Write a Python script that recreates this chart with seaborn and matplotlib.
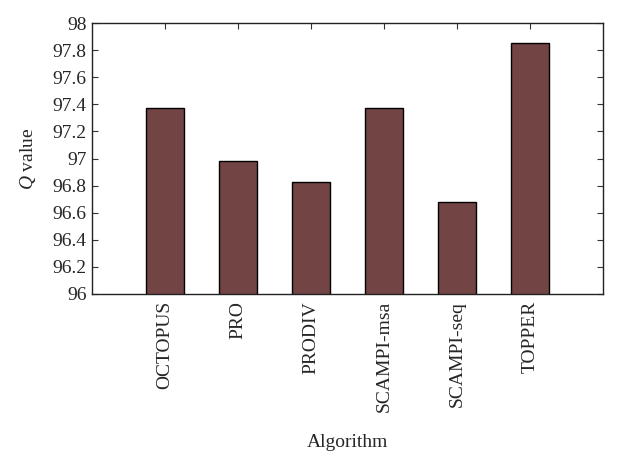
import matplotlib
matplotlib.use("Agg")
import matplotlib.pyplot as plt
import seaborn as sns
import pandas as pd

algorithms = ["OCTOPUS", "PRO", "PRODIV", "SCAMPI-msa", "SCAMPI-seq", "TOPPER"]
q_values = [97.37, 96.98, 96.83, 97.37, 96.68, 97.85]
y_ticks = [96, 96.2, 96.4, 96.6, 96.8, 97, 97.2, 97.4, 97.6, 97.8, 98]
y_tick_labels = ["96", "96.2", "96.4", "96.6", "96.8", "97", "97.2", "97.4", "97.6", "97.8", "98"]

sns.set_style("white")
plt.rcParams["font.family"] = ["Liberation Serif", "DejaVu Serif"]
plt.rcParams["mathtext.fontset"] = "custom"
plt.rcParams["mathtext.it"] = "Liberation Serif:italic"

df = pd.DataFrame({"Algorithm": algorithms, "Q": q_values})

fig = plt.figure(figsize=(6.2, 4.55), dpi=100)
ax = fig.add_axes([92 / 620, 1 - 294 / 455, (603 - 92) / 620, (294 - 23) / 455])

sns.barplot(data=df, x="Algorithm", y="Q", color="#734444", saturation=1,
            width=0.51, edgecolor="black", linewidth=1.0, ax=ax)

ax.set_xlim(-1, len(algorithms))
ax.set_ylim(96, 98)
ax.set_yticks(y_ticks)
ax.set_yticklabels(y_tick_labels)
ax.tick_params(axis="both", direction="in", length=4, width=0.8, color="#333333",
               labelsize=14, top=True, right=True, bottom=True, left=True, pad=4)
ax.tick_params(axis="x", labelrotation=90, pad=5)
for sp in ax.spines.values():
    sp.set_color("#222222")
    sp.set_linewidth(1.0)

ax.set_xlabel("Algorithm", fontsize=14, labelpad=16)
ax.set_ylabel(r"$Q$ value", fontsize=14, labelpad=10)

fig.savefig("out.png", dpi=100)
